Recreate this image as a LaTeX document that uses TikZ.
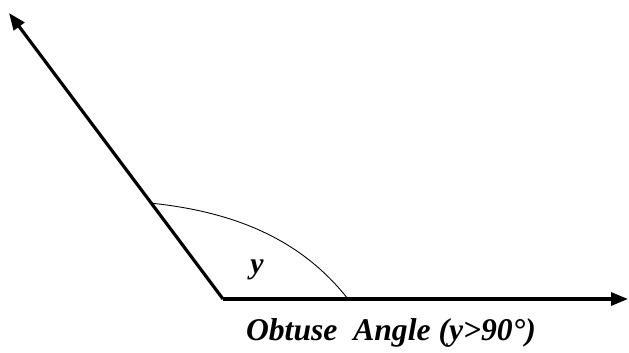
\documentclass[tikz,border=0pt]{standalone}
\usepackage{fontspec}
\setmainfont{Liberation Serif}
\usetikzlibrary{arrows.meta,calc,positioning}
\tikzset{
  ray/.style={-{Triangle[length=3.4mm,width=2.6mm]},line width=1.8pt,draw=black},
  anglearc/.style={line width=0.5pt,draw=black},
  mathlabel/.style={font=\fontsize{17}{20}\selectfont\bfseries\itshape,inner sep=0pt,anchor=base},
  caption/.style={font=\fontsize{18}{21}\selectfont\bfseries\itshape,inner sep=0pt,anchor=base}
}
\begin{document}
\begin{tikzpicture}[x=0.02cm,y=-0.02cm]
\useasboundingbox (0,0) rectangle (629,352);
\coordinate (vertex) at (223,299);
\coordinate (lefttip) at (9,13);
\coordinate (righttip) at (628,299);
\coordinate (arcstart) at ($(vertex)!0.335!(lefttip)$);
\coordinate (arcend) at (348,299);
\draw[ray] (vertex) -- (lefttip);
\draw[ray] (vertex) -- (righttip);
\draw[anglearc] (arcstart) .. controls (247,213) and (307,247) .. (arcend);
\node[mathlabel] (ylabel) at (257,273) {y};
\node[caption] (title) at (391,340) {Obtuse\ \ Angle (y>90°)};
\end{tikzpicture}
\end{document}
